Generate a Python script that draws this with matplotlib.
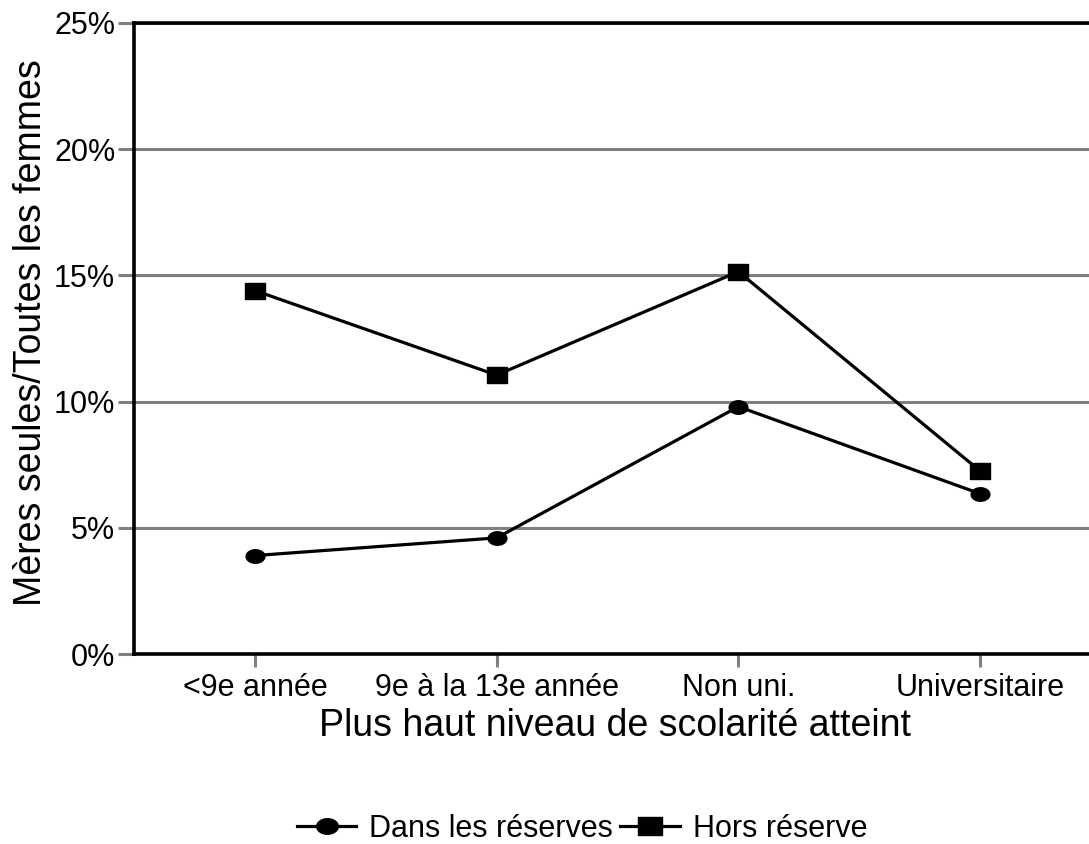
import matplotlib
matplotlib.use("Agg")
import matplotlib.pyplot as plt
from matplotlib.path import Path
import numpy as np

plt.rcParams['font.family'] = ['Liberation Sans', 'DejaVu Sans']

categories = ["<9e année", "9e à la 13e année", "Non uni.", "Universitaire"]
dans_reserves = [3.9, 4.6, 9.8, 6.35]
hors_reserve = [14.4, 11.05, 15.15, 7.25]
yticks = [0, 5, 10, 15, 20, 25]
ytick_labels = ["0%", "5%", "10%", "15%", "20%", "25%"]

# custom marker shapes (slightly wider than tall)
t = np.linspace(0, 2 * np.pi, 60)
ellipse = Path(np.column_stack([np.cos(t), 0.72 * np.sin(t)]), closed=True)
rect = Path([(-1, -0.82), (1, -0.82), (1, 0.82), (-1, 0.82), (-1, -0.82)], closed=True)

fig = plt.figure(figsize=(10.89, 8.44), dpi=100)
ax = fig.add_axes([134 / 1089, 1 - 654 / 844, (1101 - 134) / 1089, (654 - 23) / 844])

x = np.arange(len(categories))
ax.plot(x, dans_reserves, color='black', lw=2.3, marker=ellipse, markersize=13.5,
        markerfacecolor='black', markeredgecolor='black', label="Dans les réserves", zorder=3)
ax.plot(x, hors_reserve, color='black', lw=2.3, marker=rect, markersize=14.5,
        markerfacecolor='black', markeredgecolor='black', label="Hors réserve", zorder=3)

ax.set_xlim(-0.5, 3.5)
ax.set_ylim(0, 25)
ax.set_yticks(yticks)
ax.set_yticklabels(ytick_labels, fontsize=22)
ax.set_xticks(x)
ax.set_xticklabels(categories, fontsize=22)
ax.yaxis.grid(True, color='#808080', lw=2.2, zorder=0)
ax.set_axisbelow(True)
ax.tick_params(axis='y', length=11.5, width=2.2, color='#808080', pad=2)
ax.tick_params(axis='x', length=9, width=2.2, color='#808080', pad=5)

for s in ['left', 'bottom', 'top']:
    ax.spines[s].set_linewidth(2.6)
    ax.spines[s].set_color('black')
ax.spines['right'].set_visible(False)

fig.text(615 / 1089, 1 - 726 / 844, "Plus haut niveau de scolarité atteint",
         fontsize=27, ha='center', va='center')
fig.text(31 / 1089, 1 - 333 / 844, "Mères seules/Toutes les femmes",
         fontsize=27, ha='center', va='center', rotation=90)

handles, labels = ax.get_legend_handles_labels()
leg = fig.legend(handles, labels, loc='center', bbox_to_anchor=(582 / 1089, 1 - 829 / 844),
                 ncol=2, frameon=False, fontsize=22, handlelength=1.96, handletextpad=0.42,
                 columnspacing=0.23, markerscale=1.15)

fig.savefig("out.png", dpi=100)
